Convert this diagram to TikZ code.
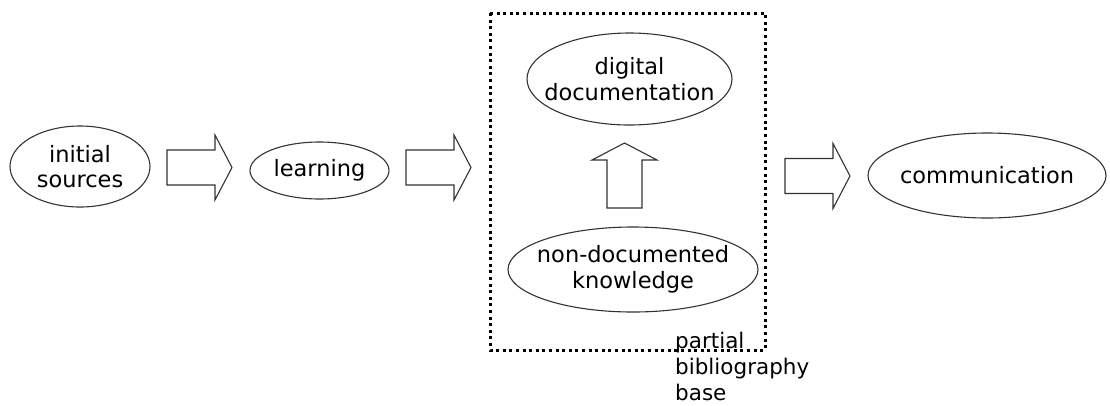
\documentclass[tikz,border=0pt]{standalone}
\usepackage{fontspec}
\setmainfont{DejaVu Sans}
\usetikzlibrary{shapes.geometric}

\tikzset{
    outline/.style={draw=black!80, line width=1.1pt},
    topic/.style={inner sep=0pt, align=center, font=\fontsize{22.5}{25.5}\selectfont},
    flowarrow/.pic={
        \draw[outline] (0,-17.5) -- (48,-17.5) -- (48,-32.5) -- (65,0)
            -- (48,32.5) -- (48,17.5) -- (0,17.5) -- cycle;
    },
}

\begin{document}
\begin{tikzpicture}[x=1pt, y=1pt]
    \useasboundingbox (0,0) rectangle (1110,-405);

    % Stages
    \draw[outline] (80,-166.5) ellipse [x radius=70, y radius=40.5];
    \node[topic] (sources) at (80,-166.5) {initial\\sources};
    \draw[outline] (319.5,-170.5) ellipse [x radius=69.5, y radius=28.5];
    \node[topic] (learning) at (319.5,-170.5) {learning};
    \draw[outline] (629.5,-79) ellipse [x radius=102.5, y radius=46];
    \node[topic] (digdoc) at (629.5,-79) {digital\\documentation};
    \draw[outline] (633,-269.5) ellipse [x radius=125, y radius=42.5];
    \node[topic] (nondoc) at (633,-269.5) {non-documented\\knowledge};
    \draw[outline] (987,-175.5) ellipse [x radius=119, y radius=42.5];
    \node[topic] (comm) at (987,-175.5) {communication};

    % Block arrows
    \pic at (167,-167.5) {flowarrow};
    \pic at (406,-167.5) {flowarrow};
    \pic at (785,-176) {flowarrow};
    \pic[rotate=90] at (624.5,-208) {flowarrow};

    % Bibliography base
    \draw[line width=3pt, dash pattern=on 3pt off 3.6pt] (490,-13) rectangle (765,-350);
    \node[anchor=base west, align=left, inner sep=0pt, font=\fontsize{21.5}{26}\selectfont]
        (biblabel) at (675,-400) {partial\\bibliography\\base};
\end{tikzpicture}
\end{document}
